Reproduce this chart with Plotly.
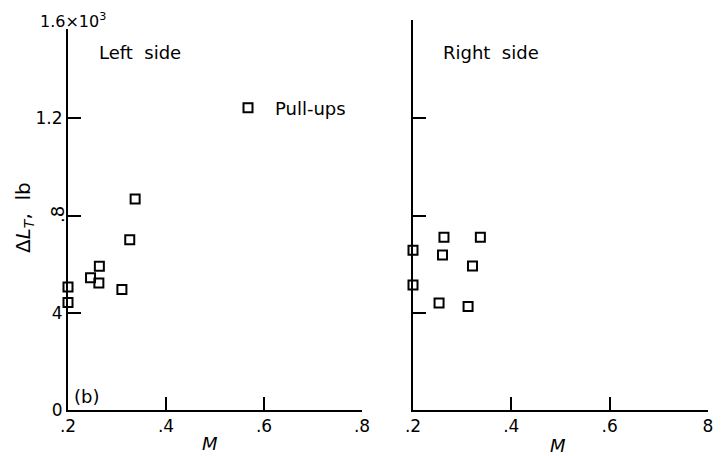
import plotly.graph_objects as go

W, H = 724, 456

# Data (M, Delta L_T in 10^3 lb)
left_M = [0.337, 0.326, 0.264, 0.246, 0.263, 0.310, 0.200, 0.200]
left_dL = [0.868, 0.700, 0.591, 0.544, 0.522, 0.496, 0.506, 0.442]
right_M = [0.263, 0.337, 0.200, 0.260, 0.321, 0.200, 0.253, 0.312]
right_dL = [0.711, 0.711, 0.657, 0.638, 0.592, 0.514, 0.440, 0.426]

x_ticks = [0.2, 0.4, 0.6, 0.8]
x_text_left = [".2", ".4", ".6", ".8"]
x_text_right = [".2", ".4", ".6", "8"]
y_ticks_left = [0, 0.4, 0.8, 1.2]
y_text_left = ["0", "4", "", "1.2"]
y_ticks_right = [0.4, 0.8, 1.2, 1.6]

FONT = "DejaVu Sans"
def px(x):
    return x / W
def py(y):
    return (H - y) / H

fig = go.Figure()
marker = dict(symbol="square-open", size=9, color="black", line=dict(width=2, color="black"))
fig.add_trace(go.Scatter(x=left_M, y=left_dL, mode="markers", marker=marker, cliponaxis=False,
                         xaxis="x", yaxis="y", name="Pull-ups", showlegend=True))
fig.add_trace(go.Scatter(x=right_M, y=right_dL, mode="markers", marker=marker, cliponaxis=False,
                         xaxis="x2", yaxis="y2", showlegend=False))

# left axis line stops a little below the 1.6 level (label sits above it)
left_top = 1.6 * (410 - 29) / (410 - 21)
right_top = 1.6 * (410 - 20) / (410 - 21)
axis_common = dict(showgrid=False, zeroline=False, showline=True, linecolor="black",
                   linewidth=2, ticks="inside", ticklen=13, tickwidth=1.5, tickcolor="black",
                   automargin=False,
                   tickfont=dict(family=FONT, size=17, color="black"))
fig.update_layout(
    template="none",
    width=W, height=H, margin=dict(l=0, r=0, t=0, b=0),
    paper_bgcolor="white", plot_bgcolor="white",
    xaxis=dict(domain=[px(68), px(362)], range=[0.2, 0.8], anchor="y",
               tickvals=x_ticks, ticktext=x_text_left, **axis_common),
    yaxis=dict(domain=[py(410), py(29)], range=[0, left_top], anchor="x",
               tickvals=y_ticks_left, ticktext=y_text_left, **axis_common),
    xaxis2=dict(domain=[px(413), px(708)], range=[0.2, 0.8], anchor="y2",
                tickvals=x_ticks, ticktext=x_text_right, **axis_common),
    yaxis2=dict(domain=[py(410), py(20)], range=[0, right_top], anchor="x2",
                tickvals=y_ticks_right, showticklabels=False, **axis_common),
    legend=dict(x=px(221), y=py(108), yanchor="middle", xanchor="left",
                font=dict(family=FONT, size=18, color="black"), bgcolor="rgba(0,0,0,0)",
                itemwidth=44),
)

ann = dict(showarrow=False, xref="paper", yref="paper", font=dict(family=FONT, size=18, color="black"))
fig.add_annotation(x=px(97), y=py(52), text="Left  side", xanchor="left", yanchor="middle", **ann)
fig.add_annotation(x=px(441), y=py(53), text="Right  side", xanchor="left", yanchor="middle", **ann)
fig.add_annotation(x=px(72), y=py(396), text="(b)", xanchor="left", yanchor="middle", **ann)
fig.add_annotation(x=px(108), y=py(20), text="1.6×10<sup>3</sup>", xanchor="right", yanchor="middle",
                   showarrow=False, xref="paper", yref="paper", font=dict(family=FONT, size=16, color="black"))
fig.add_annotation(x=px(57), y=py(214), text=".8", textangle=-90, xanchor="center", yanchor="middle", **ann)
fig.add_annotation(x=px(24), y=py(218), text="Δ<i>L</i><sub><i>T</i></sub>,  lb", textangle=-90,
                   xanchor="center", yanchor="middle",
                   showarrow=False, xref="paper", yref="paper", font=dict(family=FONT, size=20, color="black"))
fig.add_annotation(x=px(210), y=py(443), text="<i>M</i>", xanchor="center", yanchor="middle", **ann)
fig.add_annotation(x=px(558), y=py(445), text="<i>M</i>", xanchor="center", yanchor="middle", **ann)

fig.write_html("out.html")
